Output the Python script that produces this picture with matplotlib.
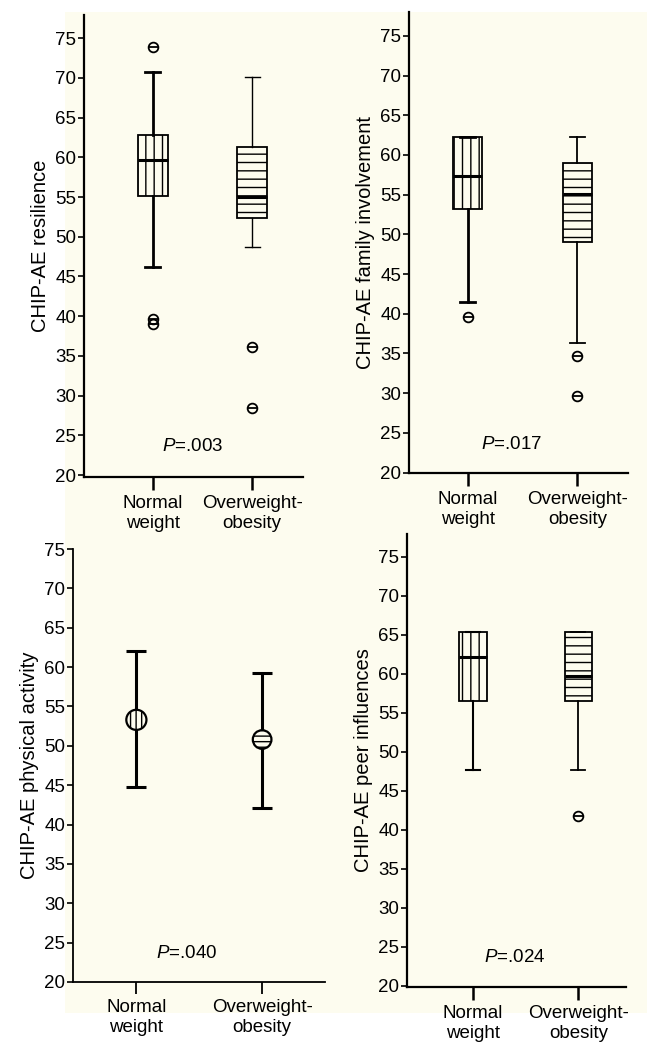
import matplotlib.pyplot as plt
from matplotlib.patches import Rectangle

plt.rcParams['font.family'] = ['Liberation Sans', 'DejaVu Sans']
plt.rcParams['mathtext.fontset'] = 'custom'
plt.rcParams['mathtext.it'] = 'Liberation Sans:italic'
plt.rcParams['mathtext.rm'] = 'Liberation Sans'
plt.rcParams['hatch.linewidth'] = 1.0

groups = ['Normal\nweight', 'Overweight-\nobesity']

# box summaries: whislo, q1, med, q3, whishi
resilience = [[46.2, 55.1, 59.7, 62.8, 70.7], [48.7, 52.4, 55.0, 61.3, 70.1]]
resilience_out = [[73.9, 39.7, 39.0], [36.1, 28.4]]
family = [[41.5, 53.2, 57.4, 62.2, 62.2], [36.3, 49.1, 55.1, 59.0, 62.3]]
family_out = [[39.6], [34.7, 29.6]]
peer = [[47.7, 56.5, 62.1, 65.3, 65.3], [47.7, 56.5, 59.75, 65.3, 65.3]]
peer_out = [[], [41.8]]

# physical activity: mean with lower / upper bar ends
activity_mean = [53.3, 50.8]
activity_lo = [44.8, 42.1]
activity_hi = [62.1, 59.2]

p_values = ['.003', '.017', '.040', '.024']

cream = '#fdfcef'

fig = plt.figure(figsize=(6.47, 10.54), dpi=100)
fig.patches.append(Rectangle((65 / 647, 1 - 1013 / 1054), 1 - 65 / 647, (1013 - 12) / 1054,
                             transform=fig.transFigure, facecolor=cream, edgecolor='none', zorder=-10))


def px_axes(l, r, top, bottom):
    return fig.add_axes([l / 647, 1 - bottom / 1054, (r - l) / 647, (bottom - top) / 1054])


def style(ax, ylabel, ylim, xlim, p, xtick_len=9.5):
    ax.set_facecolor('none')
    ax.spines[['top', 'right']].set_visible(False)
    ax.spines[['left', 'bottom']].set_linewidth(1.6)
    ax.set_ylim(*ylim)
    ax.set_xlim(*xlim)
    ax.set_yticks(range(20, 80, 5))
    ax.set_xticks([1, 2])
    ax.set_xticklabels(groups, linespacing=1.25)
    ax.tick_params(axis='y', length=4, width=1.2, pad=1.5, labelsize=13.5)
    ax.tick_params(axis='x', length=xtick_len, width=1.8, pad=3.5, labelsize=13.5)
    ax.set_ylabel(ylabel, fontsize=14.5, labelpad=4)
    ax.text(1.4, 23.6, r'$P$=' + p, ha='center', va='center', fontsize=13.5)


def boxes(ax, vals, outs, width, whisker_lw):
    stats = []
    for v, o in zip(vals, outs):
        stats.append(dict(whislo=v[0], q1=v[1], med=v[2], q3=v[3], whishi=v[4], fliers=[]))
    res = ax.bxp(stats, positions=[1, 2], widths=width, patch_artist=True, showfliers=False,
                 boxprops=dict(facecolor=cream, edgecolor='black', linewidth=1.3),
                 medianprops=dict(color='black', linewidth=2.2),
                 capprops=dict(color='black'), whiskerprops=dict(color='black'),
                 manage_ticks=False)
    res['boxes'][0].set_hatch('||')
    res['boxes'][1].set_hatch('--')
    for i, lw in enumerate(whisker_lw):
        for art in res['whiskers'][2 * i:2 * i + 2] + res['caps'][2 * i:2 * i + 2]:
            art.set_linewidth(lw)
    for i, o in enumerate(outs):
        if o:
            ax.plot([i + 1] * len(o), o, 'o', ms=7, mfc='none', mec='black', mew=1.3)
            ax.plot([i + 1] * len(o), o, '_', ms=7, color='black', mew=1.3)


# top left: resilience
ax1 = px_axes(84, 303, 15, 477)
style(ax1, 'CHIP-AE resilience', (19.75, 77.93), (0.31, 2.51), p_values[0])
boxes(ax1, resilience, resilience_out, 0.3, [2.0, 1.0])

# top right: family involvement
ax2 = px_axes(409, 628, 12, 473)
style(ax2, 'CHIP-AE family involvement', (19.95, 78.0), (0.467, 2.46), p_values[1])
boxes(ax2, family, family_out, 0.26, [2.0, 1.3])

# bottom left: physical activity
ax3 = px_axes(73, 325, 549, 982)
style(ax3, 'CHIP-AE physical activity', (20, 75), (0.496, 2.5), p_values[2], xtick_len=8.5)
ax3.spines[['left', 'bottom']].set_linewidth(1.3)
ax3.tick_params(axis='x', width=1.3)
err = [[m - lo for m, lo in zip(activity_mean, activity_lo)],
       [hi - m for m, hi in zip(activity_mean, activity_hi)]]
ax3.errorbar([1, 2], activity_mean, yerr=err, fmt='none', ecolor='black',
             elinewidth=2.2, capsize=7.5, capthick=2.2, zorder=2)
ax3.scatter([1], activity_mean[:1], s=210, facecolor=cream, edgecolor='black',
            linewidth=1.6, hatch='|||', zorder=3)
ax3.scatter([2], activity_mean[1:], s=180, facecolor=cream, edgecolor='black',
            linewidth=1.6, hatch='---', zorder=3)

# bottom right: peer influences
ax4 = px_axes(407, 626, 534, 987)
style(ax4, 'CHIP-AE peer influences', (19.83, 77.9), (0.371, 2.454), p_values[3])
boxes(ax4, peer, peer_out, 0.26, [1.5, 1.3])

plt.savefig('out.png', dpi=100)
